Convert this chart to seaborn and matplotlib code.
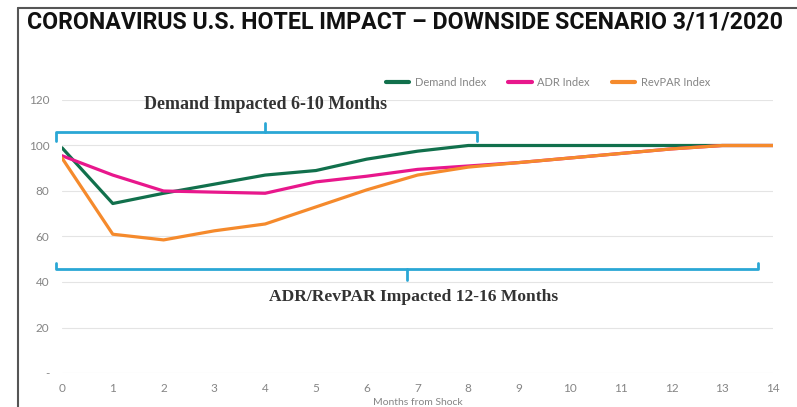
import numpy as np
import pandas as pd
import matplotlib
matplotlib.use("Agg")
import matplotlib.pyplot as plt
import seaborn as sns
from matplotlib.lines import Line2D

months = list(range(15))
demand_index = [99, 74.5, 79, 83, 87, 89, 94, 97.5, 100, 100, 100, 100, 100, 100, 100]
adr_index = [95.5, 87, 80, 79.5, 79, 84, 86.5, 89.5, 91, 92.5, 94.5, 96.5, 98.5, 100, 100]
revpar_index = [94.5, 61, 58.5, 62.5, 65.5, 73, 80.5, 87, 90.5, 92.5, 94.5, 96.5, 98.5, 100, 100]
series_names = ["Demand Index", "ADR Index", "RevPAR Index"]
y_ticks = [0, 20, 40, 60, 80, 100, 120]
y_tick_labels = ["-", "20", "40", "60", "80", "100", "120"]

colors = {"Demand Index": "#11704C", "ADR Index": "#E8178C", "RevPAR Index": "#F58A2C"}
bracket_color = "#2AA7D5"

df = pd.DataFrame({
    "month": months * 3,
    "value": demand_index + adr_index + revpar_index,
    "series": np.repeat(series_names, len(months)),
})

sns.set_style("white")
plt.rcParams["font.family"] = ["Lato", "DejaVu Sans"]

fig = plt.figure(figsize=(7.97, 4.07), dpi=100)
ax = fig.add_axes([62 / 797, 1 - 373 / 407, (773 - 62) / 797, (373 - 100) / 407])

# RevPAR drawn last so it sits on top like in the source
for name in series_names:
    sns.lineplot(data=df[df["series"] == name], x="month", y="value",
                 color=colors[name], lw=2.3, ax=ax, legend=False)

ax.set_xlim(0, 14)
ax.set_ylim(0, 120)
ax.set_xticks(months)
ax.set_yticks(y_ticks)
ax.set_yticklabels(y_tick_labels)
ax.tick_params(axis="both", length=0, labelsize=8.5, labelcolor="#858585")
ax.tick_params(axis="y", pad=9)
ax.tick_params(axis="x", pad=7)
ax.grid(axis="y", color="#E4E4E4", lw=0.8)
for s in ax.spines.values():
    s.set_visible(False)
ax.set_ylabel("")
ax.set_xlabel("Months from Shock", fontsize=7.5, color="#858585", labelpad=3)

# demand bracket
ax.plot([-0.12, -0.12, 8.17, 8.17], [102, 106, 106, 102],
        color=bracket_color, lw=2, clip_on=False)
ax.plot([4.0, 4.0], [106, 110], color=bracket_color, lw=2, clip_on=False)
ax.text(4.0, 118, "Demand Impacted 6-10 Months", ha="center", va="center",
        fontsize=13, fontweight="bold", color="#333333",
        family="Liberation Serif")

# ADR/RevPAR bracket
ax.plot([-0.12, -0.12, 13.7, 13.7], [48.5, 45.6, 45.6, 48.5],
        color=bracket_color, lw=2, clip_on=False)
ax.plot([6.79, 6.79], [45.6, 41], color=bracket_color, lw=2, clip_on=False)
ax.text(6.93, 33.5, "ADR/RevPAR Impacted 12-16 Months", ha="center", va="center",
        fontsize=12.6, fontweight="bold", color="#333333",
        family="Liberation Serif")

handles = [Line2D([], [], color=colors[n], lw=3) for n in series_names]
fig.legend(handles, series_names, loc="center", bbox_to_anchor=(548 / 797, 1 - 82 / 407),
           ncol=3, frameon=False, fontsize=8, labelcolor="#858585",
           handlelength=2.1, columnspacing=2.0, handletextpad=0.5)

fig.text(27 / 797, 1 - 22 / 407,
         "CORONAVIRUS U.S. HOTEL IMPACT \u2013 DOWNSIDE SCENARIO 3/11/2020",
         ha="left", va="center", fontsize=16.7, fontweight="bold", color="#111111",
         family="Roboto")

# slide frame
fig.add_artist(Line2D([18 / 797, 18 / 797], [0, 1 - 8 / 407], color="#555555", lw=1.5))
fig.add_artist(Line2D([18 / 797, 1], [1 - 8 / 407, 1 - 8 / 407], color="#555555", lw=1.5))

fig.savefig("out.png", dpi=100)
